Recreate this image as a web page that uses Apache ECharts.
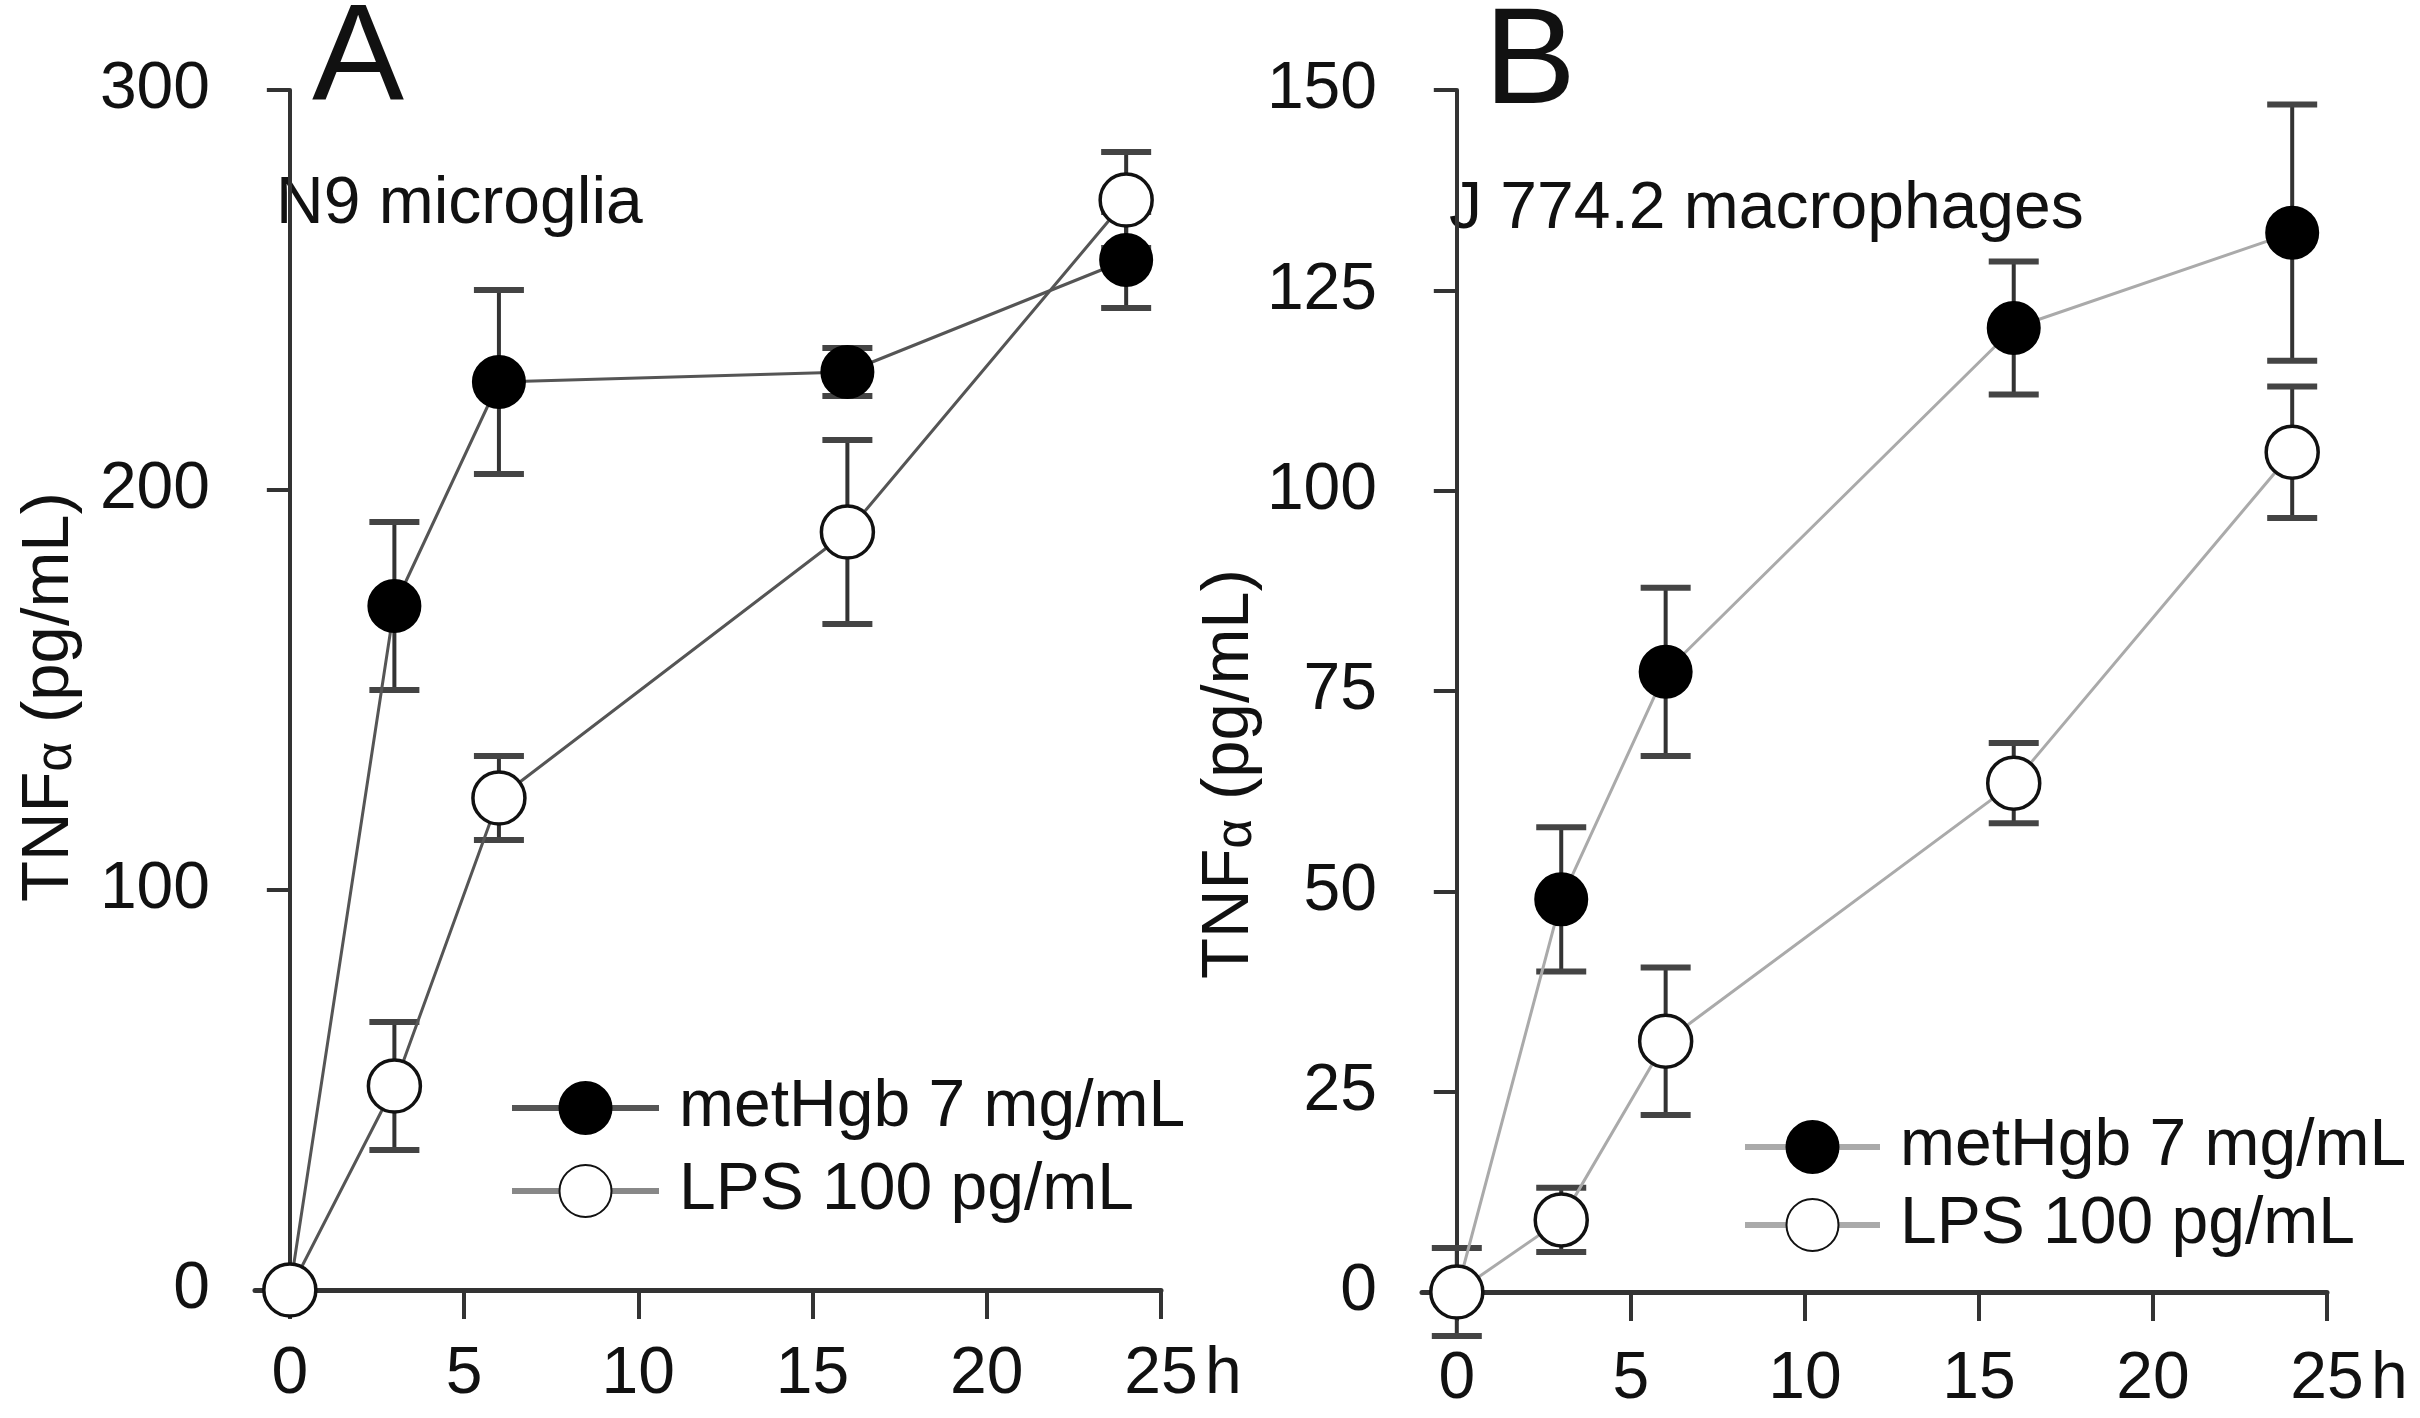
<!DOCTYPE html>
<html><head><meta charset="utf-8">
<script src="https://cdn.jsdelivr.net/npm/echarts@6/dist/echarts.min.js"></script>
<style>html,body{margin:0;padding:0;background:#fff}#c{width:2420px;height:1418px}</style>
</head><body><div id="c"></div>
<script>
// ---- data ----
const hours = [0, 3, 6, 16, 24];
const xTickValues = [0, 5, 10, 15, 20, 25];
const seriesNames = ['metHgb 7 mg/mL', 'LPS 100 pg/mL'];
const panelLetters = ['A', 'B'];
const panelTitles = ['N9 microglia', 'J 774.2 macrophages'];
const yNameParts = ['TNF', '\u03b1', ' (pg/mL)'];
// Panel A (N9 microglia)
const aMet = [0, 171, 227, 229.5, 257.5];
const aMetErr = [0, 21, 23, 6, 12];
const aLps = [0, 51, 123, 189.5, 272.5];
const aLpsErr = [0, 16, 10.5, 23, 12];
// Panel B (J 774.2 macrophages)
const bMet = [0, 49, 77.4, 120.3, 132.2];
const bMetErr = [0, 9, 10.5, 8.3, 16];
const bLps = [0, 9, 31.3, 63.5, 104.8];
const bLpsErr = [5.5, 4, 9.2, 5, 8.2];
const yMaxA = 300, yIntA = 100;
const yMaxB = 150, yIntB = 25;

const FONT = '"Liberation Sans", Arial, sans-serif';
const chart = echarts.init(document.getElementById('c'), null, {renderer: 'canvas'});

function errSeries(gi, vals, errs) {
  const data = [];
  hours.forEach((h, i) => { if (errs[i] > 0) data.push([h, vals[i] - errs[i], vals[i] + errs[i]]); });
  return {
    type: 'custom', xAxisIndex: gi, yAxisIndex: gi, z: 1, silent: true, clip: false,
    encode: {x: 0, y: [1, 2]},
    data: data,
    renderItem: (params, api) => {
      const lo = api.coord([api.value(0), api.value(1)]);
      const hi = api.coord([api.value(0), api.value(2)]);
      const hw = 25;
      return {type: 'group', children: [
        {type: 'line', shape: {x1: lo[0], y1: lo[1], x2: hi[0], y2: hi[1]}, style: {stroke: '#333', lineWidth: 4}},
        {type: 'line', shape: {x1: lo[0] - hw, y1: lo[1], x2: lo[0] + hw, y2: lo[1]}, style: {stroke: '#444', lineWidth: 6}},
        {type: 'line', shape: {x1: hi[0] - hw, y1: hi[1], x2: hi[0] + hw, y2: hi[1]}, style: {stroke: '#444', lineWidth: 6}}
      ]};
    }
  };
}
function lineSeries(gi, name, vals, filled, lineColor) {
  return {
    type: 'line', name: name, xAxisIndex: gi, yAxisIndex: gi, z: 3, clip: false, silent: true,
    data: hours.map((h, i) => [h, vals[i]]),
    symbol: 'circle', symbolSize: 52, showAllSymbol: true,
    itemStyle: filled ? {color: '#000', borderColor: '#000', borderWidth: 2}
                      : {color: '#fff', borderColor: '#111', borderWidth: 3.5},
    lineStyle: {color: lineColor, width: 3},
    emphasis: {disabled: true}
  };
}
function xAxis(gi, margin) {
  return {
    type: 'value', gridIndex: gi, min: -1, max: 25,
    axisLine: {show: true, onZero: false, lineStyle: {color: '#333', width: 5}},
    axisTick: {show: true, inside: false, length: 29, customValues: xTickValues, lineStyle: {color: '#333', width: 4}},
    axisLabel: {customValues: xTickValues, fontSize: 66, color: '#111', fontFamily: FONT, margin: margin},
    splitLine: {show: false},
    name: 'h', nameLocation: 'end', nameGap: 44,
    nameTextStyle: {fontSize: 66, color: '#111', fontFamily: FONT, verticalAlign: 'top', align: 'left', padding: [margin, 0, 0, 0]}
  };
}
function yAxis(gi, max, interval, gap, shift) {
  return {
    type: 'value', gridIndex: gi, min: 0, max: max, interval: interval,
    axisLine: {show: true, lineStyle: {color: '#333', width: 4}},
    axisTick: {show: true, length: 23, lineStyle: {color: '#333', width: 4}},
    axisLabel: {fontSize: 66, color: '#111', fontFamily: FONT, margin: 45, padding: [0, 0, 10, 0]},
    splitLine: {show: false},
    name: '{a|' + yNameParts[0] + '}{b|' + yNameParts[1] + '}{a|' + yNameParts[2] + '}',
    nameLocation: 'middle', nameGap: gap,
    nameTextStyle: {fontSize: 67, color: '#111', fontFamily: FONT, padding: [0, shift, 0, 0],
      rich: {
        a: {fontSize: 67, color: '#111', fontFamily: FONT},
        b: {fontSize: 52, color: '#111', fontFamily: FONT, verticalAlign: 'bottom'}
      }}
  };
}
function legend(left, top, w, gap, c1, c2) {
  return {
    left: left, top: top, orient: 'vertical', padding: 0, selectedMode: false,
    itemWidth: w, itemHeight: 65, itemGap: gap,
    textStyle: {fontSize: 66, color: '#111', fontFamily: FONT, padding: [0, 0, 0, 15]},
    data: [
      {name: seriesNames[0], lineStyle: {color: c1, width: 6}},
      {name: seriesNames[1], lineStyle: {color: c2, width: 6}}
    ]
  };
}

chart.setOption({
  animation: false,
  backgroundColor: '#fff',
  grid: [
    {left: 255, right: 1259, top: 90, bottom: 128},
    {left: 1422, right: 93, top: 90, bottom: 126}
  ],
  xAxis: [xAxis(0, 52), xAxis(1, 55)],
  yAxis: [yAxis(0, yMaxA, yIntA, 172, 14), yAxis(1, yMaxB, yIntB, 130, 166)],
  legend: [
    legend(509, 1075, 147, 17, '#555', '#888'),
    legend(1742, 1114, 135, 12, '#aaa', '#aaa')
  ],
  graphic: [
    {type: 'text', x: 312, y: -7, style: {text: panelLetters[0], fontSize: 138, fontFamily: FONT, fill: '#111', align: 'left', verticalAlign: 'top'}},
    {type: 'text', x: 1484, y: -4, style: {text: panelLetters[1], fontSize: 138, fontFamily: FONT, fill: '#111', align: 'left', verticalAlign: 'top'}},
    {type: 'text', x: 276, y: 172, style: {text: panelTitles[0], fontSize: 66, fontFamily: FONT, fill: '#111', align: 'left', verticalAlign: 'top'}},
    {type: 'text', x: 1449, y: 177, style: {text: panelTitles[1], fontSize: 66, fontFamily: FONT, fill: '#111', align: 'left', verticalAlign: 'top'}}
  ],
  series: [
    errSeries(0, aMet, aMetErr),
    errSeries(0, aLps, aLpsErr),
    lineSeries(0, seriesNames[0], aMet, true, '#555'),
    lineSeries(0, seriesNames[1], aLps, false, '#555'),
    errSeries(1, bMet, bMetErr),
    errSeries(1, bLps, bLpsErr),
    lineSeries(1, seriesNames[0], bMet, true, '#aaa'),
    lineSeries(1, seriesNames[1], bLps, false, '#aaa')
  ]
});
</script>
</body></html>
